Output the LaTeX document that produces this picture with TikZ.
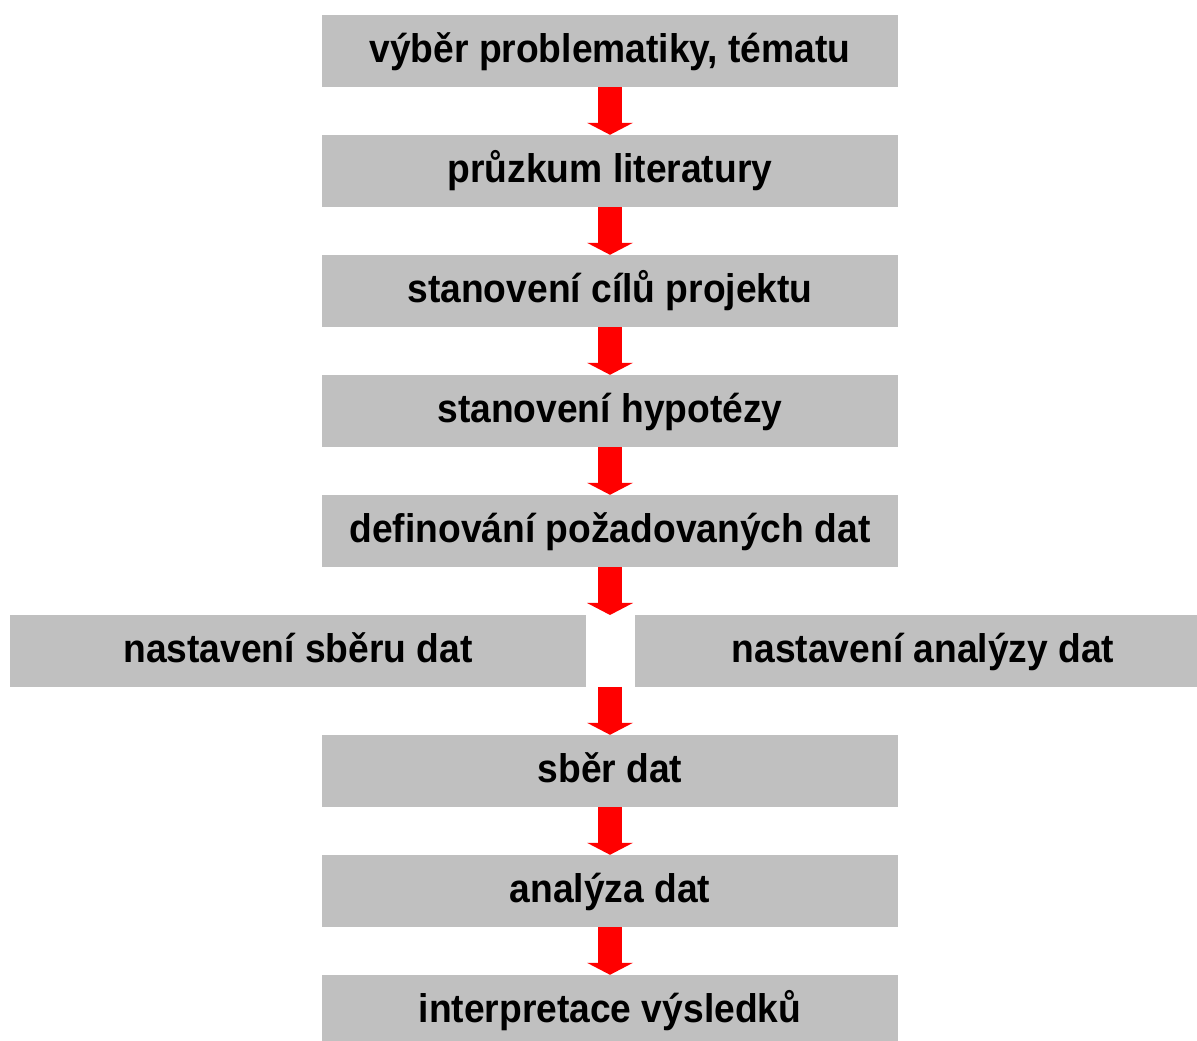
\documentclass[tikz,border=0pt]{standalone}
\usepackage{fontspec}
\setmainfont{Liberation Sans}[FakeStretch=0.93]
\usetikzlibrary{arrows.meta, positioning}
\definecolor{boxgray}{RGB}{192,192,192}
\tikzset{
	% krok postupu
	krok/.style={
		fill=boxgray,
		minimum width=576pt,
		minimum height=72pt,
		inner sep=0pt,
		text height=31pt,
		text depth=8pt,
		font=\fontsize{40}{46}\selectfont\bfseries
	}, %
	% cervena sipka
	sipka/.style={
		draw=red,
		line width=24pt,
		-{Triangle[width=46pt,length=12pt,line width=0pt]}
	} %
}

\begin{document}
\begin{tikzpicture}[x=1pt,y=1pt]
			\useasboundingbox (0,0) rectangle (1197,1041);
			
			% kroky
			\node[krok] (vyber) at (610,990) {výběr problematiky, tématu};
			\node[krok] (pruzkum) at (610,870) {průzkum literatury};
			\node[krok] (cile) at (610,750) {stanovení cílů projektu};
			\node[krok] (hypoteza) at (610,630) {stanovení hypotézy};
			\node[krok] (definovani) at (610,510) {definování požadovaných dat};
			
			% dve vetve
			\node[krok] (nastsber) at (298,390) {nastavení sběru dat};
			\node[krok] (nastanalyza) at (923,390) {nastavení analýzy dat};
			\coordinate (rozdeleni) at (610,426);
			\coordinate (spojeni) at (610,354);
			
			\node[krok] (sber) at (610,270) {sběr dat};
			\node[krok] (analyza) at (610,150) {analýza dat};
			\node[krok] (interpretace) at (610,30) {interpretace výsledků};
			
			% sipky
			\draw[sipka] (vyber.south) -- (pruzkum.north);
			\draw[sipka] (pruzkum.south) -- (cile.north);
			\draw[sipka] (cile.south) -- (hypoteza.north);
			\draw[sipka] (hypoteza.south) -- (definovani.north);
			\draw[sipka] (definovani.south) -- (rozdeleni);
			\draw[sipka] (spojeni) -- (sber.north);
			\draw[sipka] (sber.south) -- (analyza.north);
			\draw[sipka] (analyza.south) -- (interpretace.north);
		\end{tikzpicture}
\end{document}
